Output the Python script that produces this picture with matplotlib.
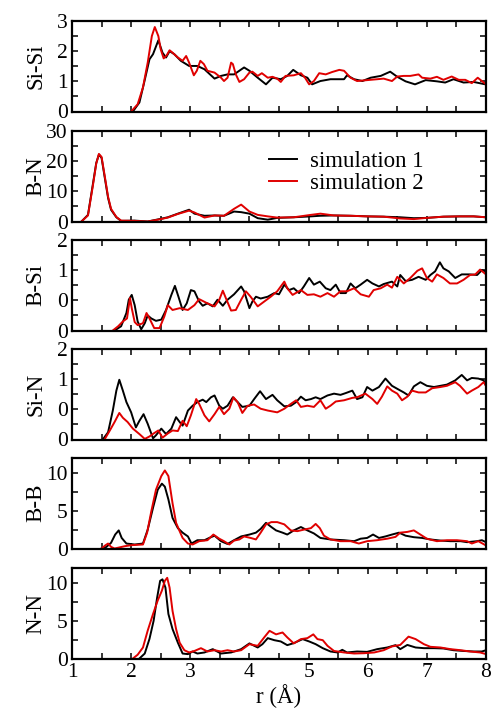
import matplotlib
matplotlib.use("Agg")
import matplotlib.pyplot as plt
from matplotlib.ticker import MultipleLocator, FixedLocator, FixedFormatter

plt.rcParams['font.family'] = ['Liberation Serif', 'DejaVu Serif']
plt.rcParams['mathtext.fontset'] = 'stix'

# ---------------- data ----------------
sisi_r1 = [2.03,2.14,2.22,2.31,2.37,2.46,2.53,2.59,2.65,2.73,2.84,2.98,3.12,3.24,3.41,3.52,3.63,3.74,3.91,4.0,4.14,4.28,4.39,4.53,4.64,4.74,4.87,4.98,5.06,5.2,5.37,5.6,5.65,5.77,5.91,6.05,6.22,6.38,6.5,6.64,6.8,6.98,7.17,7.31,7.45,7.62,7.79,7.99]
sisi_g1 = [0,0.3,0.96,1.73,1.9,2.36,1.95,1.79,2.0,1.9,1.68,1.51,1.51,1.4,1.09,1.18,1.23,1.23,1.46,1.35,1.12,0.9,1.12,1.07,1.18,1.38,1.2,1.12,0.9,1.01,1.07,1.07,1.2,1.07,1.01,1.12,1.18,1.32,1.15,1.0,0.9,1.04,1.0,0.96,1.07,0.96,0.98,0.9]
sisi_r2 = [2.0,2.11,2.2,2.28,2.35,2.4,2.46,2.5,2.55,2.6,2.65,2.7,2.79,2.87,2.93,2.98,3.06,3.11,3.17,3.23,3.29,3.41,3.52,3.57,3.63,3.69,3.72,3.77,3.83,3.91,4.0,4.05,4.14,4.21,4.31,4.39,4.47,4.53,4.61,4.75,4.87,4.94,5.01,5.09,5.18,5.29,5.4,5.52,5.6,5.71,5.82,5.99,6.16,6.27,6.41,6.5,6.61,6.72,6.86,6.92,7.06,7.17,7.28,7.42,7.54,7.65,7.76,7.86,7.93,8.0]
sisi_g2 = [0,0.24,0.8,1.62,2.5,2.8,2.5,2.06,1.76,1.86,2.03,1.95,1.79,1.68,1.84,1.62,1.2,1.35,1.68,1.57,1.35,1.29,1.12,1.01,1.12,1.62,1.57,1.23,0.98,1.07,1.29,1.32,1.18,1.27,1.12,1.15,1.09,0.98,1.18,1.2,1.27,1.12,0.9,1.01,1.27,1.23,1.31,1.38,1.35,1.12,1.01,1.04,1.07,1.09,1.01,1.16,1.18,1.18,1.23,1.12,1.09,1.15,1.05,1.16,1.05,1.05,0.94,1.12,1.01,0.9]

bn_r = [1.16,1.27,1.35,1.41,1.455,1.5,1.55,1.61,1.66,1.75,1.83,2.06,2.28,2.48,2.62,2.79,2.98,3.07,3.24,3.41,3.57,3.74,3.86,4.0,4.14,4.31,4.47,4.75,5.04,5.2,5.43,5.71,5.99,6.27,6.55,6.78,7.0,7.28,7.56,7.79,8.0]
bn_g1 = [0,2.2,12,19.4,22.2,21.1,15,7.8,3.9,1.4,0.2,0.3,0,0.8,1.4,2.6,3.9,2.6,1.9,2.0,1.9,3.3,3.1,2.6,1.1,0.6,1.2,1.4,1.7,1.9,2.0,1.9,1.7,1.6,1.4,1.1,1.2,1.6,1.7,1.7,1.4]
bn_g2 = [0,2.0,11.5,19.2,22.4,21.4,15.5,8.2,4.2,1.5,0.3,0.2,0,0.7,1.3,2.5,3.6,3.0,1.3,2.0,1.9,4.2,5.6,3.3,2.2,1.7,1.3,1.4,2.2,2.6,2.0,1.9,1.7,1.6,1.0,0.8,1.2,1.6,1.7,1.7,1.4]

bsi_r1 = [1.72,1.83,1.92,1.96,2.01,2.06,2.11,2.17,2.23,2.28,2.34,2.42,2.51,2.59,2.68,2.74,2.8,2.87,2.94,3.01,3.07,3.15,3.21,3.29,3.38,3.46,3.55,3.63,3.74,3.86,3.91,4.0,4.05,4.11,4.19,4.31,4.42,4.5,4.59,4.67,4.75,4.84,4.92,5.01,5.09,5.19,5.29,5.37,5.46,5.54,5.63,5.71,5.79,5.88,5.99,6.08,6.19,6.27,6.41,6.5,6.55,6.64,6.75,6.86,6.98,7.06,7.14,7.22,7.28,7.37,7.48,7.59,7.73,7.85,7.93,8.0]
bsi_g1 = [0,0.07,0.29,0.51,0.59,0.42,0.15,0.02,0.12,0.25,0.2,0.16,0.18,0.34,0.59,0.74,0.56,0.34,0.45,0.67,0.65,0.48,0.41,0.45,0.4,0.51,0.41,0.51,0.6,0.73,0.65,0.37,0.48,0.56,0.53,0.56,0.62,0.6,0.76,0.67,0.7,0.62,0.73,0.87,0.76,0.81,0.7,0.67,0.76,0.62,0.62,0.78,0.7,0.76,0.84,0.78,0.73,0.77,0.81,0.73,0.92,0.82,0.84,0.89,0.84,0.92,0.98,1.13,1.03,0.98,0.87,0.93,0.93,0.92,1.0,0.98]
bsi_r2 = [1.69,1.78,1.86,1.93,1.98,2.01,2.06,2.11,2.2,2.26,2.31,2.39,2.48,2.56,2.62,2.7,2.82,2.96,3.07,3.15,3.29,3.41,3.49,3.55,3.6,3.69,3.77,3.86,3.94,4.02,4.14,4.25,4.36,4.47,4.59,4.64,4.73,4.87,4.98,5.09,5.2,5.32,5.43,5.54,5.65,5.77,5.88,6.02,6.1,6.22,6.33,6.41,6.5,6.61,6.72,6.84,6.92,7.0,7.09,7.17,7.28,7.39,7.51,7.62,7.73,7.82,7.9,8.0]
bsi_g2 = [0,0.07,0.15,0.2,0.54,0.37,0.14,0.09,0.12,0.29,0.2,0.04,0.04,0.23,0.42,0.34,0.37,0.34,0.42,0.52,0.45,0.4,0.51,0.66,0.54,0.33,0.34,0.51,0.65,0.56,0.4,0.48,0.56,0.65,0.81,0.7,0.59,0.67,0.59,0.6,0.56,0.62,0.56,0.65,0.65,0.7,0.6,0.56,0.67,0.7,0.76,0.71,0.89,0.78,0.87,0.99,1.03,0.87,0.81,0.93,0.87,0.78,0.78,0.84,0.92,0.93,1.01,0.93]

sin_r1 = [1.52,1.61,1.69,1.75,1.8,1.86,1.92,2.0,2.08,2.14,2.21,2.28,2.37,2.42,2.51,2.59,2.68,2.76,2.82,2.87,2.96,3.04,3.12,3.21,3.27,3.35,3.41,3.49,3.55,3.63,3.72,3.8,3.88,4.0,4.08,4.18,4.28,4.39,4.47,4.59,4.7,4.79,4.87,4.95,5.04,5.12,5.2,5.32,5.43,5.54,5.63,5.74,5.82,5.91,5.99,6.08,6.19,6.3,6.41,6.5,6.61,6.69,6.78,6.89,7.0,7.12,7.23,7.34,7.48,7.59,7.68,7.76,7.87,7.96,8.0]
sin_g1 = [0,0.12,0.48,0.81,0.99,0.81,0.62,0.45,0.2,0.31,0.42,0.26,0.02,0.07,0.18,0.09,0.18,0.37,0.29,0.23,0.48,0.56,0.62,0.66,0.62,0.7,0.73,0.56,0.51,0.56,0.7,0.62,0.54,0.56,0.67,0.8,0.67,0.74,0.65,0.55,0.56,0.62,0.71,0.65,0.67,0.7,0.67,0.73,0.76,0.74,0.77,0.81,0.67,0.7,0.87,0.81,0.87,1.01,0.89,0.84,0.78,0.73,0.88,0.95,0.89,0.87,0.89,0.91,0.98,1.07,0.98,1.02,1.01,0.98,0.89]
sin_r2 = [1.55,1.64,1.72,1.8,1.86,1.94,2.03,2.14,2.23,2.31,2.38,2.46,2.53,2.62,2.7,2.79,2.87,2.94,3.01,3.1,3.15,3.24,3.32,3.41,3.49,3.57,3.66,3.73,3.8,3.88,3.97,4.08,4.19,4.31,4.47,4.59,4.7,4.79,4.87,4.98,5.09,5.2,5.29,5.37,5.46,5.6,5.74,5.82,5.96,6.08,6.16,6.24,6.33,6.41,6.5,6.58,6.67,6.75,6.86,6.98,7.09,7.23,7.34,7.48,7.56,7.68,7.76,7.87,7.96,8.0]
sin_g2 = [0,0.15,0.29,0.44,0.36,0.29,0.18,0.09,0.01,0.05,0.1,0.15,0.03,0.1,0.15,0.14,0.31,0.22,0.4,0.67,0.59,0.4,0.3,0.42,0.54,0.42,0.51,0.7,0.62,0.44,0.56,0.58,0.51,0.48,0.45,0.51,0.59,0.65,0.54,0.56,0.54,0.65,0.51,0.56,0.63,0.65,0.69,0.7,0.76,0.67,0.59,0.71,0.88,0.81,0.76,0.65,0.71,0.81,0.78,0.78,0.85,0.87,0.89,0.95,0.89,0.76,0.81,0.87,0.95,0.89]

bb_r1 = [1.5,1.58,1.66,1.73,1.79,1.84,1.92,2.06,2.2,2.28,2.37,2.45,2.52,2.57,2.63,2.7,2.79,2.87,2.96,3.02,3.12,3.24,3.32,3.41,3.52,3.63,3.74,3.86,4.0,4.11,4.19,4.28,4.37,4.45,4.56,4.64,4.75,4.87,4.98,5.09,5.2,5.37,5.6,5.77,5.88,5.99,6.09,6.19,6.3,6.41,6.53,6.64,6.78,6.92,7.06,7.23,7.4,7.57,7.68,7.85,7.93,8.0]
bb_g1 = [0,0.2,0.75,1.85,2.4,1.4,0.66,0.53,0.66,2.5,5.4,7.8,8.6,8.2,6.5,4.05,2.7,2.1,1.6,0.66,1.1,1.1,1.4,1.7,0.97,0.6,1.1,1.6,1.85,2.1,2.6,3.4,2.85,2.4,2.1,1.85,2.4,2.85,2.4,2.0,1.4,1.2,1.1,0.97,1.3,1.4,1.85,1.4,1.6,1.85,2.1,1.7,1.5,1.4,1.2,1.05,0.97,0.97,0.84,0.97,1.1,0.84]
bb_r2 = [1.5,1.56,1.61,1.66,1.72,1.89,2.0,2.2,2.27,2.34,2.42,2.51,2.57,2.63,2.7,2.76,2.82,2.87,2.96,3.04,3.15,3.29,3.39,3.49,3.57,3.66,3.74,3.83,3.91,4.02,4.11,4.19,4.28,4.37,4.47,4.59,4.7,4.81,4.92,5.04,5.12,5.19,5.26,5.37,5.54,5.71,5.85,5.99,6.16,6.33,6.47,6.55,6.67,6.78,6.89,7.0,7.17,7.34,7.51,7.68,7.76,7.87,8.0]
bb_g2 = [0,0.4,0.66,0.22,0,0.3,0.44,0.53,2.1,4.9,7.8,9.6,10.35,9.6,6.0,3.4,2.3,1.4,0.66,0.53,0.97,1.1,1.85,1.3,0.97,0.53,1.05,1.2,1.6,1.4,1.2,2.1,3.2,3.5,3.5,3.2,2.4,2.3,2.5,2.7,3.26,2.7,1.7,1.2,0.97,0.97,0.66,0.97,1.1,1.3,1.54,2.1,2.2,2.4,1.85,1.3,0.97,1.1,1.1,0.97,0.66,0.97,0.4]

nn_r1 = [2.14,2.23,2.31,2.38,2.44,2.49,2.53,2.58,2.63,2.7,2.79,2.87,2.96,3.04,3.12,3.24,3.38,3.52,3.69,3.86,4.0,4.14,4.22,4.31,4.42,4.53,4.64,4.75,4.9,5.01,5.12,5.24,5.37,5.49,5.57,5.65,5.82,5.99,6.16,6.33,6.47,6.55,6.67,6.81,6.95,7.12,7.28,7.45,7.62,7.79,7.93,8.0]
nn_g1 = [0,0.66,2.6,5.0,8.1,10.3,10.5,9.4,5.9,3.9,2.1,0.66,0.58,0.93,0.66,0.8,1.24,0.66,0.8,1.24,2.0,1.46,1.9,2.7,2.43,2.26,1.77,2.04,2.57,2.26,1.9,1.37,0.93,0.8,1.15,0.8,0.93,0.88,1.24,1.46,1.77,1.24,1.8,1.46,1.37,1.37,1.33,1.1,1.0,0.93,0.93,1.1]
nn_r2 = [2.03,2.11,2.2,2.28,2.37,2.45,2.52,2.57,2.61,2.65,2.7,2.76,2.82,2.9,2.98,3.07,3.18,3.29,3.41,3.52,3.63,3.74,3.86,4.0,4.14,4.25,4.34,4.45,4.56,4.64,4.75,4.87,4.98,5.08,5.15,5.24,5.32,5.43,5.6,5.77,5.94,6.11,6.27,6.41,6.55,6.69,6.81,6.95,7.06,7.23,7.4,7.57,7.73,7.9,8.0]
nn_g2 = [0,0.5,1.46,3.7,5.9,7.7,9.0,10.3,10.7,9.4,6.3,3.9,2.1,1.1,0.8,1.0,1.37,0.93,1.1,0.93,1.1,0.93,1.1,1.9,1.68,2.8,3.67,3.2,3.45,2.8,2.0,2.57,2.7,3.2,2.57,2.43,1.68,1.0,0.8,0.66,0.7,0.8,1.1,1.6,1.8,2.9,2.57,1.9,1.55,1.46,1.24,1.1,0.93,0.8,0.58]

panel_names = ["Si-Si", "B-N", "B-Si", "Si-N", "B-B", "N-N"]
series_labels = ["simulation 1", "simulation 2"]
x_ticks = [1, 2, 3, 4, 5, 6, 7, 8]
x_label = "r (Å)"

sisi_yticks = [0, 1, 2, 3]
bn_yticks = [0, 10, 20, 30]
frac_yticks = [0, 0.5, 1.0, 1.5]
frac_yticklabels = ["0", "0", "1", "2"]
peak_yticks = [0, 5, 10]

panels = [
    (sisi_r1, sisi_g1, sisi_r2, sisi_g2, 3, sisi_yticks, None, 0.5),
    (bn_r, bn_g1, bn_r, bn_g2, 30, bn_yticks, None, 5),
    (bsi_r1, bsi_g1, bsi_r2, bsi_g2, 1.5, frac_yticks, frac_yticklabels, 0.25),
    (sin_r1, sin_g1, sin_r2, sin_g2, 1.5, frac_yticks, frac_yticklabels, 0.25),
    (bb_r1, bb_g1, bb_r2, bb_g2, 12, peak_yticks, None, 2.5),
    (nn_r1, nn_g1, nn_r2, nn_g2, 12, peak_yticks, None, 2.5),
]

# ---------------- layout ----------------
W, H = 491, 716
fig = plt.figure(figsize=(W / 100, H / 100), dpi=100)
left_px, right_px = 72, 486
tops_px = [21, 131, 240, 349, 458, 568]
panel_h = 90.5

axes = []
for i, (name, spec) in enumerate(zip(panel_names, panels)):
    r1, g1, r2, g2, ymax, yt, ytl, ymin_step = spec
    top = tops_px[i]
    ax = fig.add_axes([left_px / W, 1 - (top + panel_h) / H,
                       (right_px - left_px) / W, panel_h / H])
    ax.plot(r1, g1, color='black', lw=1.4, label=series_labels[0])
    ax.plot(r2, g2, color='#e00000', lw=1.4, label=series_labels[1])
    ax.set_xlim(1, 8)
    ax.set_ylim(0, ymax)
    ax.xaxis.set_major_locator(FixedLocator(x_ticks))
    ax.xaxis.set_minor_locator(MultipleLocator(0.5))
    ax.yaxis.set_major_locator(FixedLocator(yt))
    if ytl is not None:
        ax.yaxis.set_major_formatter(FixedFormatter(ytl))
    ax.yaxis.set_minor_locator(MultipleLocator(ymin_step))
    ax.tick_params(which='both', direction='in', top=True, right=True,
                   length=4, width=1.1, labelsize=15.5, pad=3)
    for sp in ax.spines.values():
        sp.set_linewidth(1.6)
    ax.set_ylabel(name, fontsize=16.5)
    ax.yaxis.set_label_coords(-0.062, 0.5)
    if i < len(panel_names) - 1:
        ax.tick_params(labelbottom=False)
    else:
        ax.set_xlabel(x_label, fontsize=16.5, labelpad=2)
    axes.append(ax)

axes[1].legend(loc='upper left', bbox_to_anchor=(0.475, 0.78), frameon=False,
               fontsize=16.5, handlelength=1.25, handletextpad=0.55,
               labelspacing=0.05, borderpad=0, borderaxespad=0)

fig.savefig("out.png", dpi=100)
